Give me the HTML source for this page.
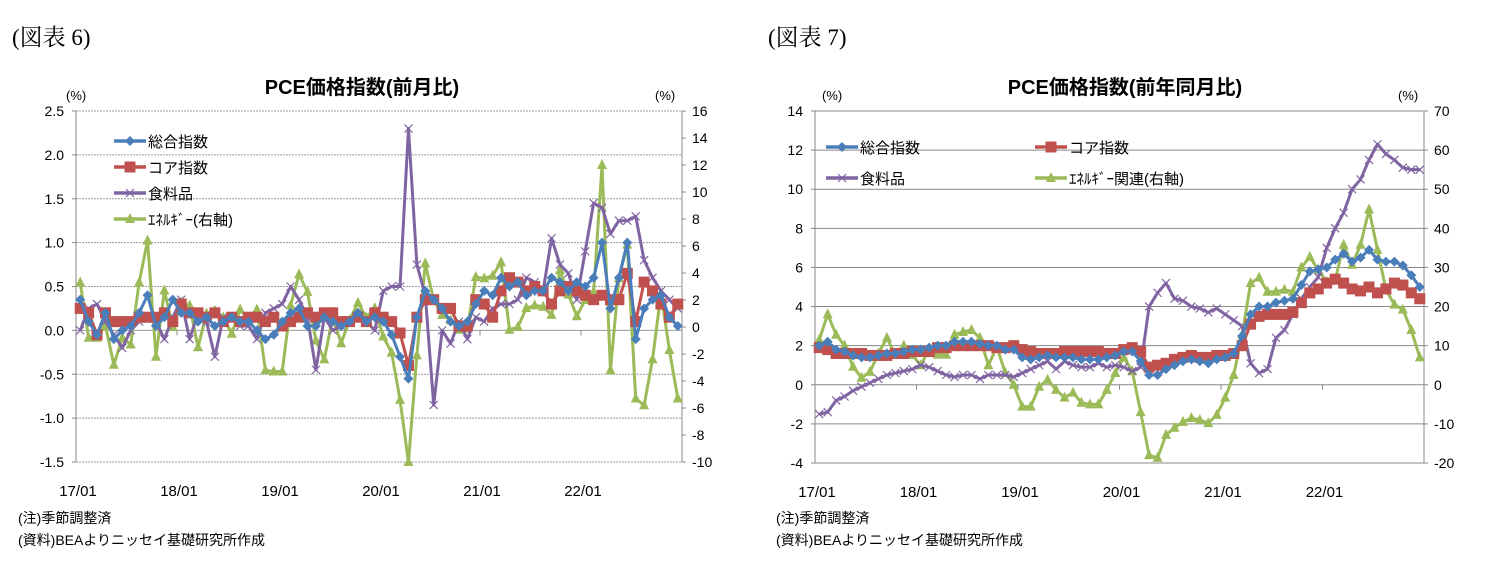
<!DOCTYPE html>
<html><head><meta charset="utf-8"><style>
body{margin:0;background:#fff;}
svg text{font-family:"Liberation Sans","Noto Sans CJK JP",sans-serif;}
</style></head><body>
<svg id="svg" width="1491" height="580" xmlns="http://www.w3.org/2000/svg">
<text x="12" y="45" font-size="23" style="font-family:'Liberation Serif','Noto Serif CJK SC',serif">(図表 6)</text>
<text x="768" y="45" font-size="23" style="font-family:'Liberation Serif','Noto Serif CJK SC',serif">(図表 7)</text>
<text x="362" y="94" font-size="20" font-weight="bold" text-anchor="middle">PCE価格指数(前月比)</text>
<text x="1125" y="94" font-size="20" font-weight="bold" text-anchor="middle">PCE価格指数(前年同月比)</text>
<text x="66" y="100" font-size="13">(%)</text>
<text x="655" y="100" font-size="13">(%)</text>
<text x="822" y="100" font-size="13">(%)</text>
<text x="1398" y="100" font-size="13">(%)</text>
<text x="18" y="523" font-size="14">(注)季節調整済</text>
<text x="18" y="545" font-size="14">(資料)BEAよりニッセイ基礎研究所作成</text>
<text x="776" y="523" font-size="14">(注)季節調整済</text>
<text x="776" y="545" font-size="14">(資料)BEAよりニッセイ基礎研究所作成</text>
<g id="c6"></g>
<g id="c7"></g>
</svg>
<script>
const xLabels=["17/01","18/01","19/01","20/01","21/01","22/01"];
const m_total=[0.35,0.1,-0.05,0.2,-0.1,0.0,0.05,0.2,0.4,0.05,0.15,0.35,0.2,0.2,0.1,0.15,0.05,0.1,0.15,0.1,0.1,0.0,-0.1,-0.05,0.1,0.2,0.25,0.05,0.05,0.15,0.1,0.05,0.1,0.2,0.1,
0.15,0.1,-0.05,-0.3,-0.55,0.15,0.45,0.35,0.25,0.1,0.05,0.1,0.3,0.45,0.4,0.6,0.5,0.55,0.4,0.45,0.45,0.6,0.55,0.45,0.55,0.5,0.6,1.0,0.25,0.6,1.0,-0.1,0.25,0.35,0.4,0.15,0.05];
const m_core=[0.25,0.2,-0.05,0.2,0.1,0.1,0.1,0.15,0.15,0.15,0.2,0.1,0.3,0.2,0.2,0.15,0.2,0.1,0.15,0.1,0.15,0.15,0.1,0.15,0.05,0.1,0.15,0.2,0.15,0.2,0.2,0.1,0.1,0.15,0.1,
0.2,0.15,0.1,-0.03,-0.4,0.15,0.35,0.35,0.25,0.25,0.05,0.05,0.35,0.3,0.15,0.45,0.6,0.55,0.45,0.5,0.45,0.3,0.45,0.5,0.45,0.4,0.35,0.4,0.35,0.35,0.65,0.1,0.55,0.45,0.3,0.15,0.3];
const m_food=[0.0,0.25,0.3,0.1,-0.05,-0.2,0.0,0.1,0.15,0.1,-0.1,0.15,0.35,-0.1,0.2,0.1,-0.3,0.15,0.15,0.05,0.05,-0.1,0.2,0.25,0.3,0.5,0.35,0.15,-0.45,0.15,0.0,0.05,0.1,0.15,0.1,
0.0,0.45,0.5,0.5,2.3,0.75,0.4,-0.85,0.0,-0.15,0.1,-0.1,0.15,0.1,0.25,0.3,0.3,0.35,0.6,0.55,0.45,1.05,0.75,0.65,0.35,0.9,1.45,1.4,1.1,1.25,1.25,1.3,0.8,0.6,0.45,0.35,0.25];
const m_energy=[3.3,-0.8,-0.8,0.1,-2.8,-0.8,-1.3,3.3,6.4,-2.2,2.7,0,1.8,1.6,-1.5,1,1.2,0.7,-0.5,1.3,0.5,1.3,-3.2,-3.3,-3.3,1.6,3.9,2.6,-1,-2.4,0.7,-1.2,0.5,1.8,0.7,
1.4,-0.7,-1.9,-5.4,-10,-2.1,4.7,2,0.9,0.5,-0.2,-0.1,3.7,3.6,3.8,4.8,-0.2,0,1.4,1.6,1.5,0.9,4.2,2.4,0.8,2,2.6,12,-3.2,3.6,6.1,-5.3,-5.8,-2.4,2.5,-1.7,-5.3];
const y_total=[2.0,2.2,1.8,1.7,1.5,1.4,1.4,1.5,1.6,1.6,1.7,1.8,1.8,1.9,2.0,2.0,2.2,2.2,2.2,2.1,2.0,2.0,1.8,1.8,1.4,1.3,1.4,1.5,1.4,1.4,1.4,1.3,1.3,1.3,1.4,1.5,1.7,1.7,1.2,0.5,0.5,0.8,1.0,1.2,1.3,1.2,1.1,1.3,1.4,1.6,2.5,3.6,4.0,4.0,4.2,4.3,4.4,5.1,5.8,5.9,6.0,6.4,6.7,6.3,6.5,6.9,6.4,6.3,6.3,6.1,5.6,5.0];
const y_core=[1.9,1.8,1.6,1.6,1.6,1.6,1.5,1.5,1.5,1.6,1.6,1.7,1.7,1.7,1.9,1.9,2.0,2.0,2.0,2.0,2.0,1.9,1.9,2.0,1.8,1.7,1.6,1.6,1.6,1.7,1.7,1.7,1.7,1.7,1.6,1.6,1.8,1.9,1.7,0.9,1.0,1.1,1.3,1.4,1.5,1.4,1.4,1.5,1.5,1.6,2.0,3.1,3.5,3.6,3.6,3.6,3.7,4.2,4.7,4.9,5.2,5.4,5.2,4.9,4.8,5.0,4.7,4.9,5.2,5.1,4.7,4.4];
const y_food=[-1.5,-1.4,-0.8,-0.6,-0.3,-0.1,0.1,0.3,0.5,0.6,0.7,0.8,1.0,0.9,0.7,0.5,0.4,0.5,0.5,0.3,0.5,0.5,0.5,0.4,0.6,0.8,1.0,1.2,0.8,1.2,1.0,0.9,0.9,1.1,0.9,1.0,0.9,0.7,0.9,4.0,4.7,5.2,4.4,4.3,4.0,3.9,3.7,3.9,3.6,3.3,3.0,1.1,0.6,0.8,2.4,2.8,3.6,4.4,5.0,5.5,7.0,8.0,8.8,10.0,10.5,11.5,12.3,11.8,11.5,11.1,11.0,11.0];
const y_energy=[11.5,18,12.8,10,4.6,1.8,3.3,8,12,7.6,10,7.6,5,9,7.7,7.7,12.8,13.5,14,12,5,9.7,3,0,-5.6,-5.6,-0.5,1.3,-1.3,-3.3,-2,-4.6,-5,-5,-1.3,3,7,3.5,-7,-18,-18.7,-12.8,-11,-9.5,-8.5,-9,-9.8,-7.7,-3.3,2.5,12.8,26,27.4,23.8,23.8,24.3,23.8,30,32.7,29.4,26.3,26.8,35.8,30.7,35.8,44.8,34.5,24.3,20.5,19.2,14,7];

const NS="http://www.w3.org/2000/svg";
function el(p,t,a){const e=document.createElementNS(NS,t);for(const k in a)e.setAttribute(k,a[k]);p.appendChild(e);return e;}
const COL={b:"#4a7ebb",r:"#c0504d",p:"#8064a2",g:"#9bbb59"};
function marker(g,type,x,y,c){
  let m;
  if(type==="d"){m=el(g,"polygon",{points:`${x},${y-5} ${x+5},${y} ${x},${y+5} ${x-5},${y}`,fill:c});}
  else if(type==="s"){m=el(g,"rect",{x:x-5.5,y:y-5.5,width:11,height:11,fill:c});}
  else if(type==="x"){m=el(g,"path",{d:`M${x-4},${y-4}L${x+4},${y+4}M${x-4},${y+4}L${x+4},${y-4}`,stroke:c,"stroke-width":1.2});}
  else {m=el(g,"polygon",{points:`${x},${y-6} ${x+5},${y+4} ${x-5},${y+4}`,fill:c});}
  
  
}
function chart(cfg){
  const g=document.getElementById(cfg.id);
  const {x0,x1,yt,yb,lmin,lmax,rmin,rmax}=cfg;
  const n=72,step=(x1-x0)/n;
  const X=i=>x0+step*(i+0.5);
  const YL=v=>yb-(v-lmin)/(lmax-lmin)*(yb-yt);
  const YR=v=>yb-(v-rmin)/(rmax-rmin)*(yb-yt);
  for(let v=lmin;v<=lmax+1e-9;v+=cfg.lstep){
    const y=YL(v);
    const gl=el(g,"line",{x1:x0,x2:x1,y1:y,y2:y,stroke:cfg.dotted?"#999":"#888","stroke-width":1,"stroke-dasharray":cfg.dotted&&Math.abs(v)>1e-9?"2,1":"none"});
    
    
    const t=el(g,"text",{x:x0-12,y:y+5,"font-size":14,"text-anchor":"end"});t.textContent=cfg.lfmt(v);
    
    
    el(g,"line",{x1:x0-4,x2:x0,y1:y,y2:y,stroke:"#888"});
  }
  for(let v=rmin;v<=rmax+1e-9;v+=cfg.rstep){
    const y=YR(v);
    const t=el(g,"text",{x:x1+10,y:y+5,"font-size":14});t.textContent=v;
    
    
    el(g,"line",{x1:x1,x2:x1+4,y1:y,y2:y,stroke:"#888"});
  }
  el(g,"line",{x1:x0,x2:x0,y1:yt,y2:yb,stroke:"#888"});
  el(g,"line",{x1:x1,x2:x1,y1:yt,y2:yb,stroke:"#888"});
  const zy=YL(0);
  xLabels.forEach((l,k)=>{
    const x=x0+step*12*k;
    el(g,"line",{x1:x,x2:x,y1:zy,y2:zy+5,stroke:"#888"});
    const t=el(g,"text",{x:x+2,y:yb+34,"font-size":15,"text-anchor":"middle"});t.textContent=l;
    
    
  });
  cfg.series.forEach(s=>{
    const Y=s.right?YR:YL;
    const pts=s.data.map((v,i)=>X(i)+","+Y(v)).join(" ");
    const sg=el(g,"g",{});
    
    
    el(sg,"polyline",{points:pts,fill:"none",stroke:s.c,"stroke-width":3,"stroke-linejoin":"round"});
    s.data.forEach((v,i)=>marker(sg,s.m,X(i),Y(v),s.c));
  });
  cfg.legend.forEach(L=>{
    const lg=el(g,"g",{});
    
    
    el(lg,"line",{x1:L.x,x2:L.x+32,y1:L.y,y2:L.y,stroke:L.c,"stroke-width":3.5});
    marker(lg,L.m,L.x+16,L.y,L.c);
    const t=el(lg,"text",{x:L.x+34,y:L.y+6,"font-size":15});t.textContent=L.t;
  });
}
chart({id:"c6",x0:76,x1:682,yt:111,yb:462,lmin:-1.5,lmax:2.5,lstep:0.5,rmin:-10,rmax:16,rstep:2,dotted:true,
 lfmt:v=>v.toFixed(1),
 series:[{name:"energy-series",data:m_energy,c:COL.g,m:"t",right:true},{name:"food-series",data:m_food,c:COL.p,m:"x"},{name:"core-series",data:m_core,c:COL.r,m:"s"},{name:"total-series",data:m_total,c:COL.b,m:"d"}],
 legend:[{x:114,y:141,c:COL.b,m:"d",t:"総合指数"},{x:114,y:167,c:COL.r,m:"s",t:"コア指数"},{x:114,y:193,c:COL.p,m:"x",t:"食料品"},{x:114,y:219,c:COL.g,m:"t",t:"ｴﾈﾙｷﾞｰ(右軸)"}]});
chart({id:"c7",x0:815,x1:1424,yt:111,yb:463,lmin:-4,lmax:14,lstep:2,rmin:-20,rmax:70,rstep:10,dotted:false,
 lfmt:v=>String(v),
 series:[{name:"energy-series",data:y_energy,c:COL.g,m:"t",right:true},{name:"food-series",data:y_food,c:COL.p,m:"x"},{name:"core-series",data:y_core,c:COL.r,m:"s"},{name:"total-series",data:y_total,c:COL.b,m:"d"}],
 legend:[{x:826,y:147,c:COL.b,m:"d",t:"総合指数"},{x:1035,y:147,c:COL.r,m:"s",t:"コア指数"},{x:826,y:178,c:COL.p,m:"x",t:"食料品"},{x:1035,y:178,c:COL.g,m:"t",t:"ｴﾈﾙｷﾞｰ関連(右軸)"}]});
</script>
</body></html>
